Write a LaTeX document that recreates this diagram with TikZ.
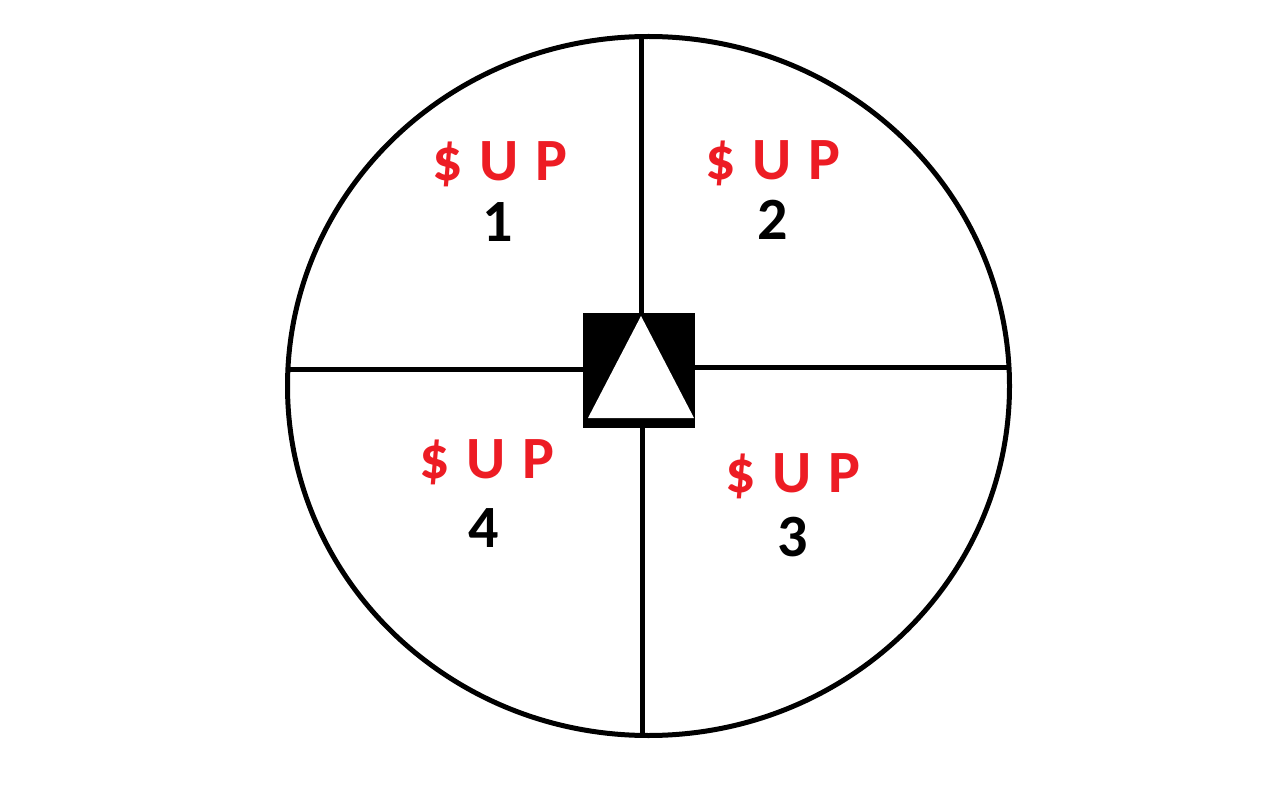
\documentclass[tikz,border=0pt]{standalone}
\usepackage{fontspec}
\setmainfont{Carlito}
\definecolor{supred}{RGB}{237,28,36}
\newcommand{\suplabel}{\$\hspace{17pt}U\hspace{17pt}P}
\begin{document}
\begin{tikzpicture}[x=1pt,y=-1pt,
  line/.style={line width=5pt},
  suptext/.style={text=supred,font=\fontsize{60}{64}\selectfont\bfseries,inner sep=0pt,anchor=center},
  numtext/.style={text=black,font=\fontsize{60}{64}\selectfont\bfseries,inner sep=0pt,anchor=center}]
\useasboundingbox (0,0) rectangle (1274,799);
\fill[white] (0,0) rectangle (1274,799);
\draw[line] (648.5,386) ellipse [x radius=361, y radius=349.5];
\coordinate (top) at (641,36);
\coordinate (bot) at (642,736);
\coordinate (lft) at (287,370);
\coordinate (rgt) at (1010,368);
\node[fill=black,minimum width=112pt,minimum height=115pt,inner sep=0pt] (sq) at (639,370.5) {};
\draw[line] (top) -- (sq.north -| top);
\draw[line] (bot) -- (sq.south -| bot);
\draw[line] (lft) -- (sq.west |- lft);
\draw[line] (rgt) -- (sq.east |- rgt);
\fill[white] (641,316) -- (694,418) -- (588,418) -- cycle;
\node[suptext] (s1) at (500,164) {\suplabel};
\node[numtext] (n1) at (498,222) {1};
\node[suptext] (s2) at (773,163) {\suplabel};
\node[numtext] (n2) at (773,220) {2};
\node[suptext] (s4) at (487,462) {\suplabel};
\node[numtext] (n4) at (484,528) {4};
\node[suptext] (s3) at (793,476) {\suplabel};
\node[numtext] (n3) at (793,537) {3};
\end{tikzpicture}
\end{document}
